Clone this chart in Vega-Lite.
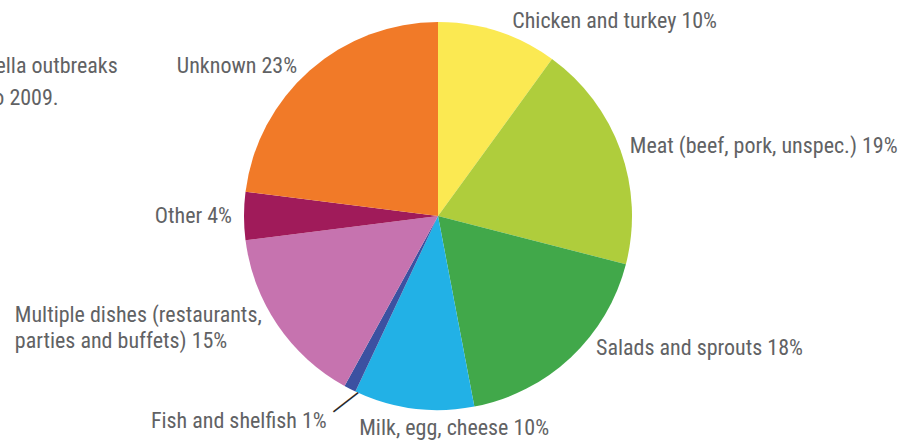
{
  "$schema": "https://vega.github.io/schema/vega-lite/v6.json",
  "autosize": {"type": "none"},
  "width": 876,
  "height": 432,
  "padding": {"left": 0, "top": 0, "right": 29, "bottom": 11},
  "background": "white",
  "config": {"view": {"stroke": null}, "text": {"font": "Liberation Sans Narrow, Roboto Condensed, Roboto", "fontSize": 22, "fill": "#616264"}},
  "title": {
    "text": ["Food sources of Salmonella outbreaks", "in the U.S. during 1998 to 2009."],
    "anchor": "start", "align": "left", "baseline": "top", "frame": "group",
    "dx": -215, "dy": 129, "offset": 0, "lineHeight": 32,
    "font": "Liberation Sans Narrow, Roboto Condensed, Roboto", "fontSize": 22, "fontWeight": "normal", "color": "#616264"
  },
  "data": {"values": [
    {"idx": 1, "cat": "Chicken and turkey", "pct": 10, "label": "Chicken and turkey 10%"},
    {"idx": 2, "cat": "Meat", "pct": 19, "label": "Meat (beef, pork, unspec.) 19%"},
    {"idx": 3, "cat": "Salads and sprouts", "pct": 18, "label": "Salads and sprouts 18%"},
    {"idx": 4, "cat": "Milk, egg, cheese", "pct": 10, "label": "Milk, egg, cheese 10%"},
    {"idx": 5, "cat": "Fish and shelfish", "pct": 1, "label": "Fish and shelfish 1%"},
    {"idx": 6, "cat": "Multiple dishes", "pct": 15, "label": "Multiple dishes (restaurants,\nparties and buffets) 15%"},
    {"idx": 7, "cat": "Other", "pct": 4, "label": "Other 4%"},
    {"idx": 8, "cat": "Unknown", "pct": 23, "label": "Unknown 23%"}
  ]},
  "encoding": {
    "theta": {"field": "pct", "type": "quantitative", "stack": true, "scale": {"domain": [0, 100]}},
    "order": {"field": "idx", "type": "quantitative"}
  },
  "layer": [
    {
      "mark": {"type": "arc", "outerRadius": 194},
      "encoding": {
        "color": {"field": "cat", "type": "nominal", "legend": null,
          "scale": {
            "domain": ["Chicken and turkey", "Meat", "Salads and sprouts", "Milk, egg, cheese", "Fish and shelfish", "Multiple dishes", "Other", "Unknown"],
            "range": ["#FBE952", "#AFCD3C", "#41A84A", "#22B1E6", "#3C51A1", "#C673AF", "#A01B5A", "#F17A28"]
          }}
      }
    },
    {
      "mark": {"type": "text", "radius": 209, "align": "center", "baseline": "middle", "angle": 322, "font": "Liberation Serif", "fontSize": 31, "fill": "#2b2b2b", "dx": 2, "dy": 0},
      "encoding": {"text": {"condition": {"test": "datum.cat === 'Fish and shelfish'", "value": "\u2014"}, "value": ""}}
    },
    {
      "mark": {"type": "text", "radius": 208, "align": "left", "baseline": "middle", "dx": 10, "dy": 3},
      "encoding": {"text": {"condition": {"test": "datum.cat === 'Chicken and turkey'", "field": "label"}, "value": ""}}
    },
    {
      "mark": {"type": "text", "radius": 206, "align": "left", "baseline": "middle", "dx": -2},
      "encoding": {"text": {"condition": {"test": "datum.cat === 'Meat'", "field": "label"}, "value": ""}}
    },
    {
      "mark": {"type": "text", "radius": 206, "align": "left", "baseline": "middle", "dx": 17, "dy": -18},
      "encoding": {"text": {"condition": {"test": "datum.cat === 'Salads and sprouts'", "field": "label"}, "value": ""}}
    },
    {
      "mark": {"type": "text", "radius": 214, "align": "center", "baseline": "middle", "dx": 43, "dy": 0},
      "encoding": {"text": {"condition": {"test": "datum.cat === 'Milk, egg, cheese'", "field": "label"}, "value": ""}}
    },
    {
      "mark": {"type": "text", "radius": 232, "align": "right", "baseline": "middle", "dx": -6, "dy": -2},
      "encoding": {"text": {"condition": {"test": "datum.cat === 'Fish and shelfish'", "field": "label"}, "value": ""}}
    },
    {
      "mark": {"type": "text", "radius": 213, "align": "left", "baseline": "middle", "lineBreak": "\n", "lineHeight": 26, "dx": -247, "dy": -21},
      "encoding": {"text": {"condition": {"test": "datum.cat === 'Multiple dishes'", "field": "label"}, "value": ""}}
    },
    {
      "mark": {"type": "text", "radius": 210, "align": "right", "baseline": "middle", "dx": -2, "dy": 8},
      "encoding": {"text": {"condition": {"test": "datum.cat === 'Unknown'", "field": "label"}, "value": ""}}
    },
    {
      "mark": {"type": "text", "radius": 206, "align": "right", "baseline": "middle"},
      "encoding": {"text": {"condition": {"test": "datum.cat === 'Other'", "field": "label"}, "value": ""}}
    }
  ]
}
